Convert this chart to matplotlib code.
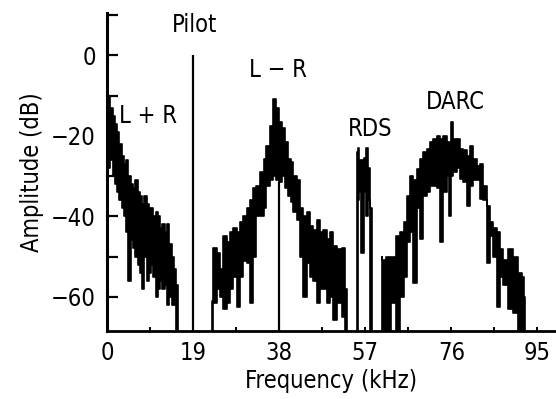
import numpy as np
import matplotlib
matplotlib.use("Agg")
import matplotlib.pyplot as plt

plt.rcParams["font.family"] = ["Liberation Sans Narrow", "DejaVu Sans"]
plt.rcParams["font.stretch"] = "condensed"

# --------- Datos (kHz, dB) ---------

# Banda L+R: frecuencia, borde superior, borde inferior
lr_sum_f = [0, 0.5, 1.0, 1.5, 2.0, 2.5, 3.0, 3.5, 4.0, 4.5, 5.0, 5.5, 6.0, 6.5, 7.0, 7.5,
            8.0, 8.5, 9.0, 9.5, 10.0, 10.5, 11.0, 11.5, 12.0, 12.5, 13.0, 13.5, 14.0, 14.5,
            15.0, 15.6]
lr_sum_top = [-5, -10, -13, -15, -17, -19, -22, -25, -27, -26, -30, -32, -33, -31, -34, -35,
              -37, -35, -37, -38, -38, -40, -39, -40, -43, -42, -44, -42, -47, -50,
              -53, -57]
lr_sum_bot = [-30, -28, -26, -30, -32, -34, -36, -38, -40, -44, -56, -46, -48, -50, -52, -54,
              -58, -50, -56, -54, -52, -55, -60, -58, -56, -58, -57, -62, -60, -62,
              -62, -68.5]

# Banda L-R
lr_diff_f = [23.2, 23.8, 24.6, 25.3, 26.0, 26.8, 27.5, 28.3, 29.0, 29.7, 30.5, 31.2, 31.9,
             32.7, 33.3, 34.2, 34.9, 35.5, 36.4, 37.1, 37.7, 38.2, 38.9, 39.7, 40.4, 40.8,
             41.5, 42.2, 43.0, 43.7, 44.4, 45.2, 45.9, 46.6, 47.4, 48.1, 48.9, 49.6, 50.3,
             51.4, 52.2, 52.9]
lr_diff_top = [-61, -48, -49, -53, -45, -46.5, -44, -43, -44, -41.5, -40, -38, -36,
               -33, -32.5, -29, -25.75, -22.5, -17.5, -10.75, -13, -16.5, -18, -21.5, -25.75, -26.5,
               -30, -31, -38, -40, -39, -42.5, -43.5, -41, -44, -43.5, -45.75, -44, -47.5,
               -48.25, -48, -58]
lr_diff_bot = [-68.5, -61.5, -58, -60, -63, -61.5, -58, -55, -62.5, -55, -51, -51.5, -61.5,
               -50, -40, -40, -38, -32.5, -31, -30, -31, -31.5, -30, -33, -35, -36.5,
               -39, -41, -50, -60, -51.5, -55, -56, -61.5, -58, -58, -61.5, -60, -65.75,
               -61.5, -65, -68.5]

# RDS
rds_f = [55.1, 55.5, 55.9, 56.4, 56.9, 57.3, 57.8, 58.4]
rds_top = [-24, -23, -26, -26, -25.5, -23, -28, -38]
rds_bot = [-68.5, -36, -34, -49, -34, -40, -36, -68.5]

# DARC
darc_f = [60.6, 61.0, 62.1, 63.2, 64.3, 65.1, 65.8, 66.5, 67.3, 68.0, 68.7, 69.5, 70.2,
          70.9, 71.7, 72.4, 73.1, 73.9, 74.6, 75.3, 75.7, 76.1, 76.8, 77.6, 78.3, 79.0,
          79.8, 80.5, 81.2, 82.0, 82.7, 83.4, 84.2, 84.9, 85.7, 86.4, 87.1, 87.9, 89.0,
          90.1, 91.2, 91.9, 92.3]
darc_top = [-50, -50.75, -50, -50, -45, -44, -41.5, -35, -30, -31, -28.25, -25.75, -24,
            -23.25, -21.5, -20.75, -20, -20.75, -20, -21.5, -21.5, -16.5, -20.75, -20.75, -23.25, -23.5,
            -25, -22.5, -25.75, -27.5, -27, -32.5, -37.5, -41.5, -43, -44, -48.25, -50.75, -48.25,
            -50, -54, -55, -60]
darc_bot = [-68.5, -68.5, -68.5, -61.5, -68.5, -60, -55, -46.5, -44, -56.5, -38, -45.75, -35,
            -34, -32.5, -32.5, -33, -46.5, -34, -30, -40, -30, -29, -28, -30.75, -31.5,
            -37.5, -32.5, -31, -31, -35.75, -36, -51.5, -45, -50, -62.5, -55, -57, -63,
            -64, -68.5, -68.5, -68.5]

# Lineas espectrales (portadora piloto y residuo a 38 kHz)
lines_f = [19, 38]
lines_top = [0, -31.5]

x_ticks = [0, 19, 38, 57, 76, 95]
y_ticks = [0, -20, -40, -60]

labels = ["Pilot", "L \u2212 R", "L + R", "RDS", "DARC"]
labels_x = [19.3, 37.7, 9.0, 58.0, 76.8]
labels_y = [7.5, -3.7, -15.0, -18.2, -11.5]

# --------- Figura ---------

fig = plt.figure(figsize=(5.56, 3.99), dpi=100)
ax = fig.add_axes([0.1924, 0.1704, 0.8076, 0.797])
y_min = -68.5
ax.set_xlim(0, 99.1)
ax.set_ylim(y_min, 10.5)

for f, top, bot in [(lr_sum_f, lr_sum_top, lr_sum_bot),
                    (lr_diff_f, lr_diff_top, lr_diff_bot),
                    (rds_f, rds_top, rds_bot),
                    (darc_f, darc_top, darc_bot)]:
    ax.fill_between(f, bot, top, step="mid", color="black", linewidth=1.2, edgecolor="black")

ax.vlines(lines_f, y_min, lines_top, color="black", linewidth=1.6)

for t, x, y in zip(labels, labels_x, labels_y):
    ax.text(x, y, t, ha="center", va="center", fontsize=17)

ax.spines["top"].set_visible(False)
ax.spines["right"].set_visible(False)
ax.spines["left"].set_linewidth(2.2)
ax.spines["bottom"].set_linewidth(2.0)

ax.set_xticks(x_ticks)
ax.set_xticks(np.arange(9.5, 99, 19), minor=True)
ax.set_yticks(y_ticks)
ax.set_yticks([10, -10, -30, -50], minor=True)
ax.tick_params(axis="y", which="both", direction="in", length=8, width=1.6, labelsize=17, pad=8)
ax.tick_params(axis="x", which="both", direction="in", length=3, width=1.4, labelsize=17, pad=7)

ax.set_xlabel("Frequency (kHz)", fontsize=17, labelpad=3)
ax.set_ylabel("Amplitude (dB)", fontsize=17, labelpad=5)

fig.savefig("out.png", dpi=100)
